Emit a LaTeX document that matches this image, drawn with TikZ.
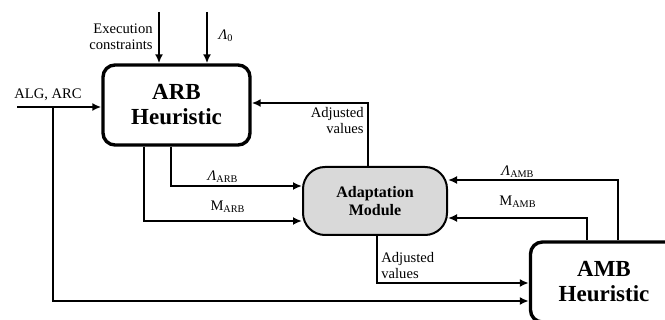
\documentclass[tikz,border=0pt]{standalone}
\usepackage{fontspec}
\setmainfont{Liberation Serif}
\usepackage{xcolor}
\definecolor{ModGray}{RGB}{217,217,217}
\usepackage{tikz}
\usetikzlibrary{arrows.meta}
\tikzstyle{Box}=[draw,line width=1.7pt,rounded corners=6pt,
minimum width=73.5pt,minimum height=40pt,align=center,
font=\fontsize{11.5}{12.5}\selectfont\bfseries]
\tikzstyle{Module}=[draw,line width=1pt,fill=ModGray,rounded corners=11pt,
minimum width=72pt,minimum height=34pt,align=center,
font=\fontsize{8}{9}\selectfont\bfseries]
\tikzstyle{Edge}=[line width=0.9pt,-{Latex[length=4.5pt,width=4pt]}]
\tikzstyle{NodeST}=[font=\fontsize{7.3}{8}\selectfont,inner sep=0pt]
\newcommand{\Lam}{\textit{Λ}}

\begin{document}
\begin{tikzpicture}[x=0.5pt,y=-0.5pt]
        \useasboundingbox(0,0)rectangle(665,320);
        \clip(0,0)rectangle(665,320);
        \node[Box](ARB)at(176.5,105){ARB\\Heuristic};
        \node[Module](AM)at(375,201){Adaptation\\Module};
        \node[Box](AMB)at(604,282){AMB\\Heuristic};
        \coordinate(ec)at(159,12);
        \coordinate(l0)at(207,12);
        \coordinate(in)at(17,107);
        \coordinate(br)at(53,107);
        \node[NodeST,align=right,anchor=east](ect)at(153,37)
            {Execution\\constraints};
        \node[NodeST](l0t)at(226,36){\Lam\textsubscript{0}};
        \node[NodeST](int)at(48,95){ALG, ARC};
        \node[NodeST,align=right,anchor=east](adj1)at(364,121)
            {Adjusted\\values};
        \node[NodeST,align=left,anchor=west](adj2)at(381,266)
            {Adjusted\\values};
        \node[NodeST](la)at(223,177){\Lam\textsubscript{ARB}};
        \node[NodeST](ma)at(228,207){M\textsubscript{ARB}};
        \node[NodeST](lb)at(518,172){\Lam\textsubscript{AMB}};
        \node[NodeST](mb)at(518,202){M\textsubscript{AMB}};
        \draw[Edge](ec)--(ec|-ARB.north);
        \draw[Edge](l0)--(l0|-ARB.north);
        \draw[Edge](in)--(in-|ARB.west);
        \draw[Edge](br)|-(AMB.west|-0,301);
        \draw[Edge](ARB.south-|171,0)|-(AM.west|-0,186);
        \draw[Edge](ARB.south-|144,0)|-(AM.west|-0,221);
        \draw[Edge](AM.north-|368,0)|-(ARB.east|-0,103);
        \draw[Edge](AM.south-|377,0)|-(AMB.west|-0,283);
        \draw[Edge](AMB.north-|618,0)|-(AM.east|-0,180);
        \draw[Edge](AMB.north-|587,0)|-(AM.east|-0,218);
    \end{tikzpicture}
\end{document}
